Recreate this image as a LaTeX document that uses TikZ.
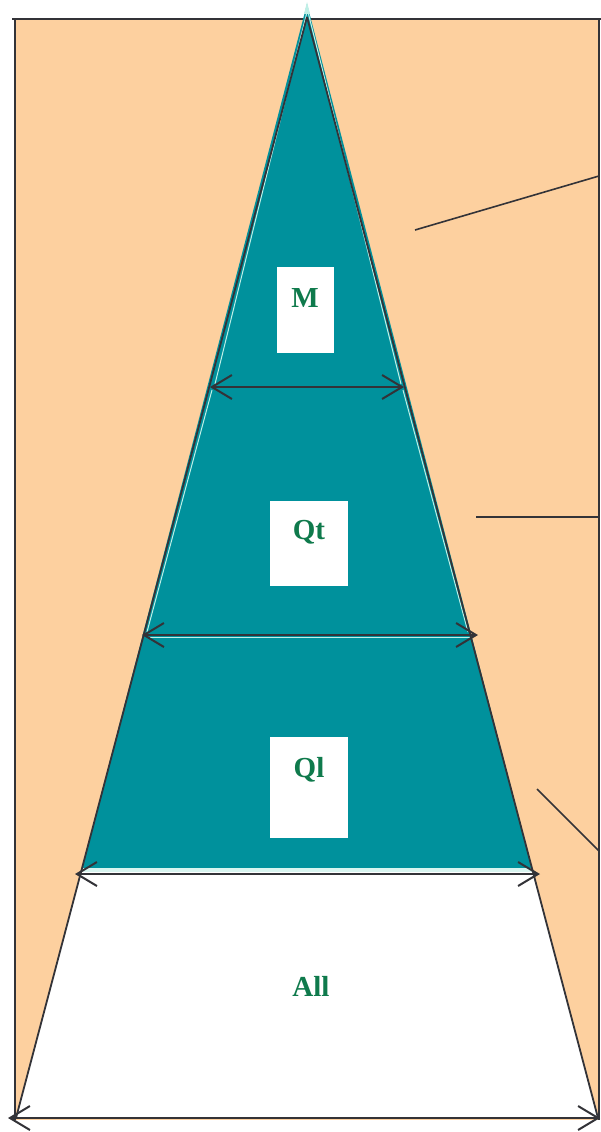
\documentclass[tikz,border=0pt]{standalone}
\usepackage{fontspec}
\setmainfont{Liberation Serif}
\usetikzlibrary{arrows.meta}
\definecolor{peach}{HTML}{FDD09F}
\definecolor{tealfill}{HTML}{00919C}
\definecolor{paleline}{HTML}{BFEFE6}
\definecolor{lbl}{HTML}{0F7A4C}
\definecolor{ink}{HTML}{333338}
\tikzset{
  edge/.style={draw=ink,line width=1.8pt},
  leader/.style={draw=ink,line width=1.6pt},
  barb/.tip={Straight Barb[length=20pt,width=24pt,line width=2pt]},
  dim/.style={draw=ink,line width=1.8pt,barb-barb},
  lblbox/.style={fill=white,inner sep=0pt,anchor=north},
  lbltext/.style={text=lbl,font=\fontsize{29}{31}\selectfont\bfseries}
}
\begin{document}
\begin{tikzpicture}[x=1pt,y=-1pt]
\useasboundingbox (0,0) rectangle (601,1132);
% background panel
\fill[peach] (15,19) rectangle (599,1120);
\draw[edge] (12,19) -- (601,19);
\draw[edge] (15,19) -- (15,1120);
\draw[edge] (599,19) -- (599,1120);
% coordinates
\coordinate (apex) at (307,17);
\coordinate (bl) at (16,1118);
\coordinate (br) at (598,1118);
% white trapezoid
\fill[white] (81,871) -- (533,871) -- (br) -- (bl) -- cycle;
% teal levels
\fill[tealfill] (307,4) -- (82,868) -- (532,868) -- cycle;
\fill[paleline] (307,2) -- (304,14) -- (310,14) -- cycle;
\fill[paleline!60!white] (83,868) rectangle (532,872);
% pale inner outlines
\draw[paleline,line width=1pt] (307,12) -- (215,384);
\draw[paleline,line width=1pt] (308,12) -- (401,384);
\draw[paleline,line width=1pt] (212,390) -- (147,632);
\draw[paleline,line width=1pt] (403,390) -- (468,632);
\draw[paleline,line width=1pt] (150,637) -- (472,637);
% outer edges
\draw[edge] (apex) -- (bl);
\draw[edge] (apex) -- (br);
% dimension arrows
\coordinate (m1) at (210,387); \coordinate (m2) at (404,387);
\coordinate (q1) at (142,635); \coordinate (q2) at (478,635);
\coordinate (l1) at (75,874); \coordinate (l2) at (540,874);
\coordinate (b1) at (8,1118); \coordinate (b2) at (600,1118);
\draw[dim] (m1) -- (m2);
\draw[dim] (q1) -- (q2);
\draw[dim] (l1) -- (l2);
\draw[dim] (b1) -- (b2);
% labels
\node[lblbox,minimum width=57pt,minimum height=86pt] (M) at (305.5,267) {};
\node[lbltext] (Mt) at (305,298) {M};
\node[lblbox,minimum width=78pt,minimum height=85pt] (Qt) at (309,501) {};
\node[lbltext] (Qtt) at (309,532) {Qt};
\node[lblbox,minimum width=78pt,minimum height=101pt] (Ql) at (309,737) {};
\node[lbltext] (Qlt) at (309,770) {Ql};
\node[lbltext] (All) at (311,986) {All};
% leader lines
\coordinate (a1) at (415,230); \coordinate (a2) at (599,176);
\coordinate (c1) at (476,517); \coordinate (c2) at (599,517);
\coordinate (d1) at (537,789); \coordinate (d2) at (599,851);
\draw[leader] (a1) -- (a2);
\draw[leader] (c1) -- (c2);
\draw[leader] (d1) -- (d2);
\end{tikzpicture}
\end{document}
